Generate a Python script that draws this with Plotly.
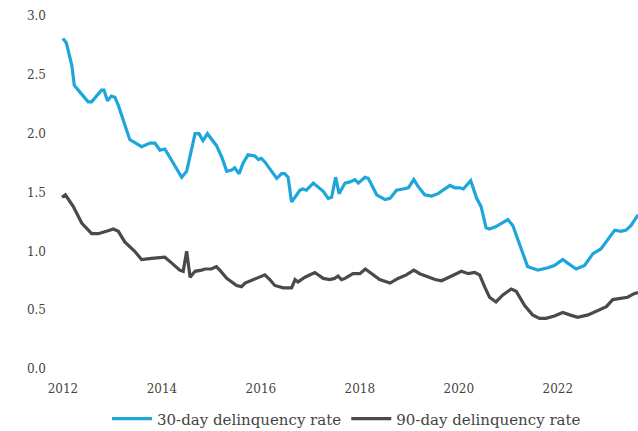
import plotly.graph_objects as go

# Decimal-year positions and values
blue_x = [2012.00, 2012.07, 2012.18, 2012.23, 2012.31, 2012.51, 2012.58, 2012.78, 2012.83, 2012.90,
          2012.98, 2013.05, 2013.12, 2013.35, 2013.59, 2013.76, 2013.86, 2013.96, 2014.06, 2014.26,
          2014.40, 2014.50, 2014.67, 2014.75, 2014.83, 2014.92, 2014.97, 2015.10, 2015.21, 2015.31,
          2015.41, 2015.47, 2015.56, 2015.64, 2015.74, 2015.88, 2015.95, 2016.01, 2016.08, 2016.22,
          2016.32, 2016.42, 2016.48, 2016.55, 2016.62, 2016.69, 2016.79, 2016.85, 2016.92, 2017.06,
          2017.12, 2017.26, 2017.36, 2017.43, 2017.51, 2017.58, 2017.70, 2017.80, 2017.90, 2017.97,
          2018.10, 2018.17, 2018.34, 2018.51, 2018.61, 2018.74, 2018.87, 2018.98, 2019.09, 2019.18,
          2019.31, 2019.45, 2019.58, 2019.72, 2019.82, 2019.92, 2020.02, 2020.09, 2020.24, 2020.36,
          2020.45, 2020.55, 2020.62, 2020.75, 2020.99, 2021.09, 2021.26, 2021.39, 2021.60, 2021.80,
          2021.93, 2022.10, 2022.20, 2022.37, 2022.54, 2022.71, 2022.87, 2023.01, 2023.15, 2023.28,
          2023.38, 2023.48, 2023.62]
blue_y = [2.81, 2.77, 2.58, 2.41, 2.37, 2.27, 2.27, 2.37, 2.37, 2.28,
          2.32, 2.31, 2.24, 1.95, 1.89, 1.92, 1.92, 1.86, 1.87, 1.73,
          1.63, 1.68, 2.00, 2.00, 1.94, 2.00, 1.97, 1.90, 1.80, 1.68,
          1.69, 1.71, 1.66, 1.75, 1.82, 1.81, 1.78, 1.79, 1.76, 1.68,
          1.62, 1.66, 1.66, 1.63, 1.42, 1.46, 1.52, 1.53, 1.52, 1.58,
          1.56, 1.51, 1.45, 1.46, 1.63, 1.49, 1.58, 1.59, 1.61, 1.58,
          1.63, 1.62, 1.48, 1.44, 1.45, 1.52, 1.53, 1.54, 1.61, 1.55,
          1.48, 1.47, 1.49, 1.53, 1.56, 1.54, 1.54, 1.53, 1.60, 1.45,
          1.38, 1.20, 1.19, 1.21, 1.27, 1.22, 1.01, 0.87, 0.84, 0.86,
          0.88, 0.93, 0.90, 0.85, 0.88, 0.98, 1.02, 1.10, 1.18, 1.17,
          1.18, 1.22, 1.31]

gray_x = [2011.98, 2012.05, 2012.21, 2012.38, 2012.58, 2012.71, 2012.88, 2013.02, 2013.12, 2013.25,
          2013.45, 2013.59, 2013.79, 2014.06, 2014.20, 2014.36, 2014.43, 2014.50, 2014.57, 2014.67,
          2014.80, 2014.87, 2015.00, 2015.10, 2015.17, 2015.31, 2015.51, 2015.61, 2015.68, 2015.85,
          2015.98, 2016.08, 2016.18, 2016.28, 2016.45, 2016.62, 2016.69, 2016.75, 2016.89, 2017.09,
          2017.26, 2017.39, 2017.49, 2017.56, 2017.63, 2017.70, 2017.86, 2018.00, 2018.11, 2018.24,
          2018.40, 2018.61, 2018.77, 2018.94, 2019.09, 2019.21, 2019.38, 2019.52, 2019.65, 2019.82,
          2019.95, 2020.05, 2020.19, 2020.32, 2020.42, 2020.52, 2020.62, 2020.75, 2020.89, 2021.06,
          2021.16, 2021.33, 2021.49, 2021.63, 2021.76, 2021.93, 2022.10, 2022.24, 2022.40, 2022.61,
          2022.81, 2022.98, 2023.11, 2023.25, 2023.41, 2023.54, 2023.62]
gray_y = [1.46, 1.48, 1.38, 1.24, 1.15, 1.15, 1.17, 1.19, 1.17, 1.08,
          1.00, 0.93, 0.94, 0.95, 0.90, 0.84, 0.83, 1.00, 0.78, 0.83,
          0.84, 0.85, 0.85, 0.87, 0.84, 0.77, 0.71, 0.70, 0.73, 0.76,
          0.78, 0.80, 0.76, 0.71, 0.69, 0.69, 0.76, 0.74, 0.78, 0.82,
          0.77, 0.76, 0.77, 0.79, 0.76, 0.77, 0.81, 0.81, 0.85, 0.81,
          0.76, 0.73, 0.77, 0.80, 0.84, 0.81, 0.78, 0.76, 0.75, 0.78,
          0.81, 0.83, 0.81, 0.82, 0.80, 0.70, 0.61, 0.57, 0.63, 0.68,
          0.66, 0.54, 0.46, 0.43, 0.43, 0.45, 0.48, 0.46, 0.44, 0.46,
          0.50, 0.53, 0.59, 0.60, 0.61, 0.64, 0.65]

x_ticks = [2012, 2014, 2016, 2018, 2020, 2022]
x_tick_labels = ["2012", "2014", "2016", "2018", "2020", "2022"]
y_ticks = [0.0, 0.5, 1.0, 1.5, 2.0, 2.5, 3.0]
y_tick_labels = ["0.0", "0.5", "1.0", "1.5", "2.0", "2.5", "3.0"]

font_family = "DejaVu Serif"

fig = go.Figure()
fig.add_trace(go.Scatter(x=blue_x, y=blue_y, mode="lines", name="30-day delinquency rate",
                         line=dict(color="#1ea6da", width=3.2)))
fig.add_trace(go.Scatter(x=gray_x, y=gray_y, mode="lines", name="90-day delinquency rate",
                         line=dict(color="#4a4a4a", width=3.2)))

fig.update_layout(
    width=638, height=431,
    margin=dict(l=55, r=0, t=16, b=62, autoexpand=False),
    paper_bgcolor="white", plot_bgcolor="white",
    font=dict(family=font_family, size=12, color="#444444"),
    showlegend=True,
    legend=dict(orientation="h", x=0.5, xanchor="center",
                yref="container", y=0.028, yanchor="middle",
                font=dict(family=font_family, size=15, color="#444444"),
                itemwidth=40, tracegroupgap=0),
    xaxis=dict(range=[2011.84, 2023.62], tickvals=x_ticks, ticktext=x_tick_labels,
               showgrid=False, zeroline=False, showline=False, ticks="",
               ticklabelstandoff=11,
               tickfont=dict(size=12, color="#444444")),
    yaxis=dict(range=[0, 3.0], tickvals=y_ticks, ticktext=y_tick_labels,
               showgrid=False, zeroline=False, showline=False, ticks="",
               ticklabelstandoff=8,
               tickfont=dict(size=12, color="#444444")),
)

fig.write_html("out.html")
